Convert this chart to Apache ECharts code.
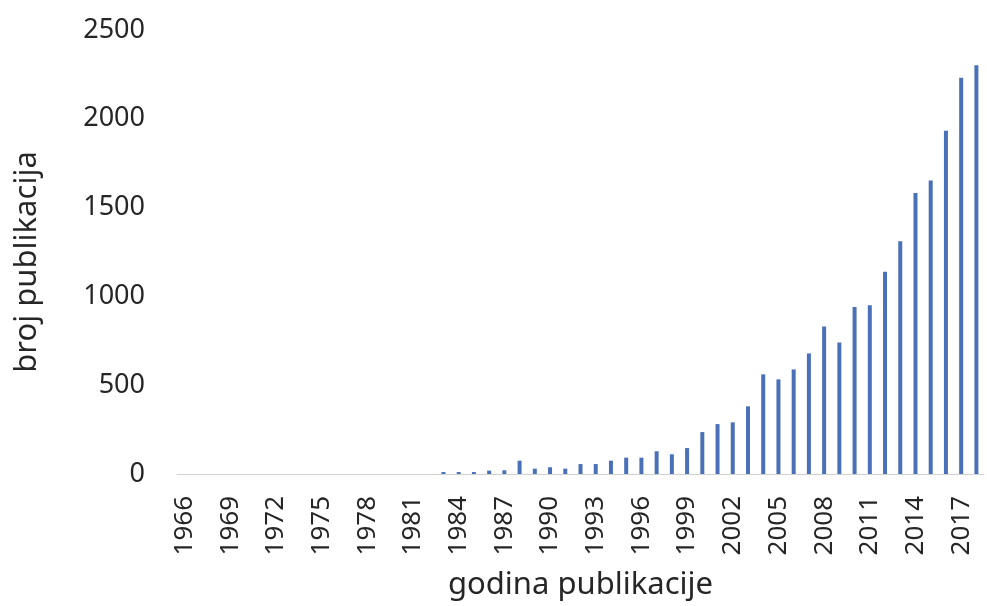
<!DOCTYPE html>
<html>
<head>
<meta charset="utf-8">
<title>broj publikacija</title>
<script src="https://cdn.jsdelivr.net/npm/echarts@6/dist/echarts.min.js"></script>
<style>
  html, body { margin: 0; padding: 0; background: #fff; }
  #chart { width: 987px; height: 606px; }
</style>
</head>
<body>
<div id="chart"></div>
<script>
// godine 1966 - 2018
var years = [];
for (var y = 1966; y <= 2018; y++) years.push(String(y));

// broj publikacija po godini (ocitano sa slike)
var counts = [
  0, 0, 0, 0, 0, 0, 0, 0, 0, 0, 0, 0, 0, 0, 0, 0, 0,
  11, 11, 11, 19, 21, 75, 30, 38, 30, 56, 56, 75, 92, 92, 128, 111, 146,
  236, 281, 291, 381, 561, 533, 589, 679, 831, 741, 940, 950, 1139, 1310,
  1582, 1653, 1933, 2231, 2302
];

var yTicks = [0, 500, 1000, 1500, 2000, 2500];

var font = "'Noto Sans', sans-serif";
var textColor = "#262626";

var myChart = echarts.init(document.getElementById("chart"));
myChart.setOption({
  animation: false,
  grid: {
    left: 177,
    right: 3,
    top: 30,
    bottom: 132
  },
  xAxis: {
    type: "category",
    data: years,
    name: "godina publikacije",
    nameLocation: "middle",
    nameGap: 96,
    nameTextStyle: { fontFamily: font, fontSize: 31, color: textColor },
    axisLine: { lineStyle: { color: "#d0d0d0", width: 1 } },
    axisTick: { show: false },
    axisLabel: {
      interval: 2,
      rotate: 90,
      margin: 22,
      fontFamily: font,
      fontSize: 26,
      color: textColor
    }
  },
  yAxis: {
    type: "value",
    min: yTicks[0],
    max: yTicks[yTicks.length - 1],
    interval: 500,
    name: "broj publikacija",
    nameLocation: "middle",
    nameGap: 134,
    nameTextStyle: {
      fontFamily: font,
      fontSize: 31,
      color: textColor,
      padding: [0, 20, 0, 0]
    },
    axisLine: { show: false },
    axisTick: { show: false },
    splitLine: { show: false },
    axisLabel: {
      margin: 32,
      fontFamily: font,
      fontSize: 27,
      color: textColor,
      formatter: function (v) { return String(v); }
    }
  },
  series: [
    {
      type: "bar",
      data: counts,
      barWidth: 4,
      itemStyle: { color: "#4a70b8" }
    }
  ]
});
</script>
</body>
</html>
